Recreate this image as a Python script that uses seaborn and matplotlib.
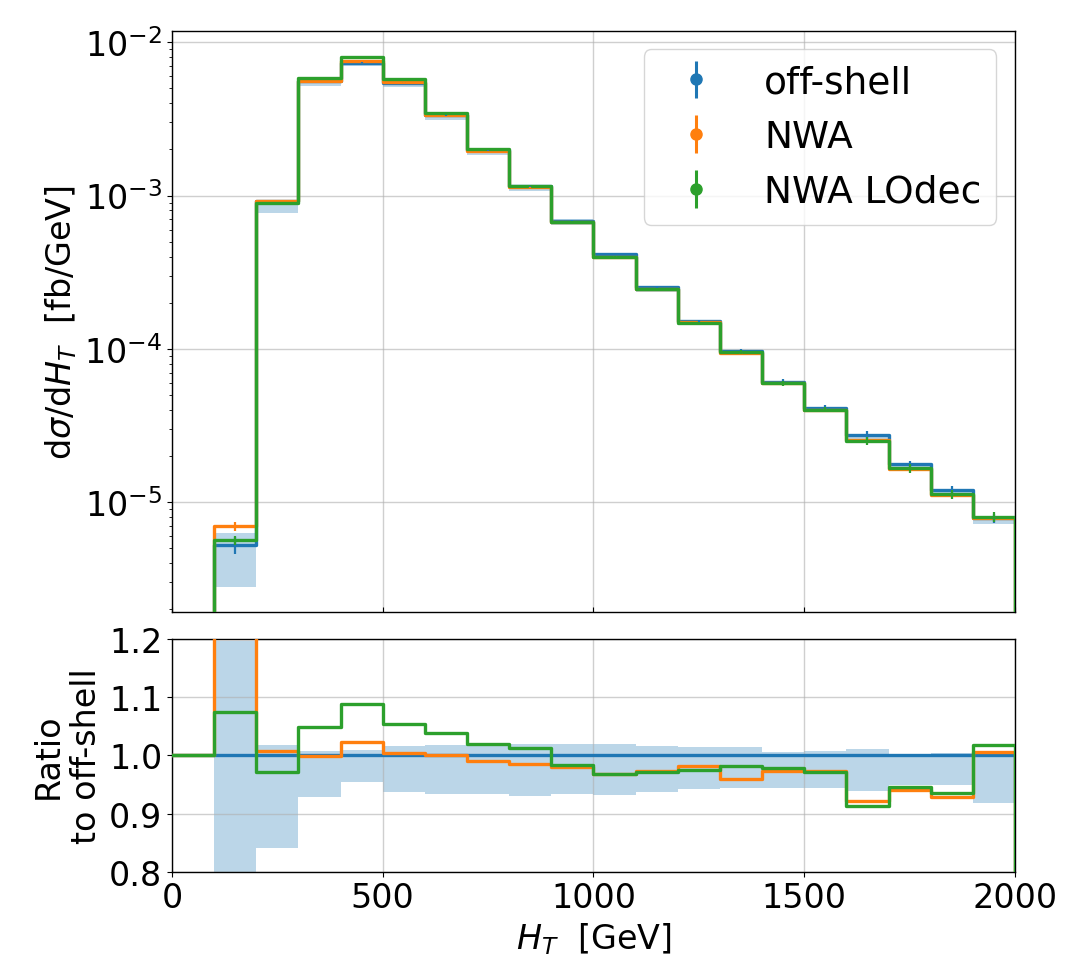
import numpy as np
import matplotlib
matplotlib.use("Agg")
import matplotlib.pyplot as plt
import seaborn as sns

# H_T binning [GeV]
bin_edges = [0, 100, 200, 300, 400, 500, 600, 700, 800, 900, 1000,
             1100, 1200, 1300, 1400, 1500, 1600, 1700, 1800, 1900, 2000]

# differential cross sections [fb/GeV], one value per bin
offshell = [0.0, 5.26e-6, 9.20e-4, 5.58e-3, 7.35e-3, 5.45e-3, 3.34e-3, 1.975e-3,
            1.147e-3, 6.87e-4, 4.13e-4, 2.52e-4, 1.52e-4, 9.72e-5, 6.11e-5,
            4.12e-5, 2.76e-5, 1.76e-5, 1.20e-5, 7.85e-6]
nwa = [0.0, 6.97e-6, 9.27e-4, 5.57e-3, 7.52e-3, 5.47e-3, 3.34e-3, 1.957e-3,
       1.130e-3, 6.73e-4, 4.00e-4, 2.452e-4, 1.491e-4, 9.33e-5, 5.95e-5,
       4.01e-5, 2.545e-5, 1.654e-5, 1.115e-5, 7.89e-6]
nwa_lodec = [0.0, 5.65e-6, 8.93e-4, 5.85e-3, 8.00e-3, 5.74e-3, 3.47e-3, 2.013e-3,
             1.161e-3, 6.76e-4, 4.00e-4, 2.449e-4, 1.482e-4, 9.54e-5, 5.98e-5,
             4.00e-5, 2.52e-5, 1.665e-5, 1.122e-5, 7.99e-6]

# scale-variation envelope of the off-shell prediction
band_hi = [0.0, 6.29e-6, 9.37e-4, 5.62e-3, 7.42e-3, 5.54e-3, 3.40e-3, 2.01e-3,
           1.169e-3, 7.00e-4, 4.21e-4, 2.56e-4, 1.541e-4, 9.86e-5, 6.15e-5,
           4.15e-5, 2.79e-5, 1.762e-5, 1.205e-5, 7.85e-6]
band_lo = [0.0, 2.81e-6, 7.73e-4, 5.18e-3, 7.01e-3, 5.11e-3, 3.12e-3, 1.843e-3,
           1.066e-3, 6.41e-4, 3.85e-4, 2.36e-4, 1.432e-4, 9.17e-5, 5.77e-5,
           3.89e-5, 2.59e-5, 1.670e-5, 1.139e-5, 7.21e-6]

# Monte Carlo integration errors
offshell_err = [0.0, 7.0e-7, 4.6e-6, 2.8e-5, 3.7e-5, 2.7e-5, 1.7e-5, 1.0e-5, 5.7e-6,
                3.4e-6, 5.0e-6, 3.8e-6, 3.0e-6, 2.9e-6, 2.1e-6, 1.6e-6, 1.7e-6,
                9.0e-7, 7.8e-7, 5.5e-7]
nwa_err = [0.0, 4.7e-7, 2.0e-6, 1.2e-5, 1.6e-5, 1.2e-5, 7.0e-6, 4.0e-6, 2.5e-6,
           1.5e-6, 1.2e-6, 8.0e-7, 5.0e-7, 3.5e-7, 2.5e-7, 1.8e-7, 1.2e-7,
           9.0e-8, 7.0e-8, 5.0e-8]
nwa_lodec_err = [0.0, 4.0e-7, 2.5e-6, 1.5e-5, 2.0e-5, 1.5e-5, 1.0e-5, 6.0e-6, 4.0e-6,
                 3.0e-6, 3.0e-6, 2.5e-6, 2.0e-6, 2.5e-6, 2.3e-6, 1.5e-6, 1.5e-6,
                 1.1e-6, 8.0e-7, 6.0e-7]

labels = ["off-shell", "NWA", "NWA LOdec"]
colors = ["#1f77b4", "#ff7f0e", "#2ca02c"]

plt.rcParams.update({
    "font.family": ["DejaVu Sans"],
    "mathtext.fontset": "dejavusans",
    "font.size": 24,
    "axes.labelsize": 24,
    "xtick.labelsize": 24,
    "ytick.labelsize": 24,
    "legend.fontsize": 27,
    "axes.linewidth": 1.0,
})

edges = np.asarray(bin_edges, dtype=float)
centers = 0.5 * (edges[:-1] + edges[1:])
ref = np.asarray(offshell)
series = [np.asarray(offshell), np.asarray(nwa), np.asarray(nwa_lodec)]
errors = [np.asarray(offshell_err), np.asarray(nwa_err), np.asarray(nwa_lodec_err)]
hi = np.asarray(band_hi)
lo = np.asarray(band_lo)


def ratio(a):
    return np.divide(a, ref, out=np.ones_like(a), where=ref > 0)


fig = plt.figure(figsize=(10.85, 9.62), dpi=100)
ax1 = fig.add_axes([0.1585, 0.3628, 0.777, 0.6043])
ax2 = fig.add_axes([0.1585, 0.0928, 0.777, 0.2419], sharex=ax1)

band_color = (0.12, 0.47, 0.71, 0.3)
filled = ref > 0
xb = edges[np.argmax(filled):]
ax1.fill_between(xb, np.append(lo[filled], lo[-1]), np.append(hi[filled], hi[-1]),
                 step="post", color=band_color, lw=0, zorder=1)
ax2.fill_between(xb, np.append(ratio(lo)[filled], ratio(lo)[-1]),
                 np.append(ratio(hi)[filled], ratio(hi)[-1]),
                 step="post", color=band_color, lw=0, zorder=1)

for vals, err, col in zip(series, errors, colors):
    sns.lineplot(x=edges, y=np.append(vals, 0.0), drawstyle="steps-post",
                 estimator=None, sort=False, color=col, lw=2.4, ax=ax1, zorder=3)
    m = vals > 0
    ax1.errorbar(centers[m], vals[m], yerr=err[m], fmt="none", ecolor=col,
                 elinewidth=1.6, capsize=0, zorder=4)
    sns.lineplot(x=edges, y=np.append(ratio(vals), 0.0), drawstyle="steps-post",
                 estimator=None, sort=False, color=col, lw=2.4, ax=ax2, zorder=3)

# legend entries drawn as error-bar markers
handles = [ax1.errorbar([np.nan], [np.nan], yerr=[np.nan], fmt="o", color=c,
                        ms=8, elinewidth=2.2, capsize=0, label=l)
           for c, l in zip(colors, labels)]
ax1.legend(handles=handles, labels=labels, loc="upper right")

ax1.set_yscale("log")
ax1.set_ylim(1.92e-6, 1.19e-2)
ax1.set_xlim(0, 2000)
ax1.set_ylabel(r"d$\sigma$/d$H_T$  [fb/GeV]")
ax1.set_xlabel("")
ax1.tick_params(axis="x", which="both", labelbottom=False, direction="in", length=3.5)
ax1.grid(True, which="major", color="#b0b0b0", alpha=0.6, lw=1.0)

ax2.set_ylim(0.8, 1.2)
ax2.set_yticks([0.8, 0.9, 1.0, 1.1, 1.2])
ax2.set_xticks([0, 500, 1000, 1500, 2000])
ax2.set_xlim(0, 2000)
ax2.set_ylabel("Ratio\nto off-shell")
ax2.set_xlabel(r"$H_T$  [GeV]")
ax2.grid(True, which="major", color="#b0b0b0", alpha=0.6, lw=1.0)

fig.savefig("out.png", dpi=100)
